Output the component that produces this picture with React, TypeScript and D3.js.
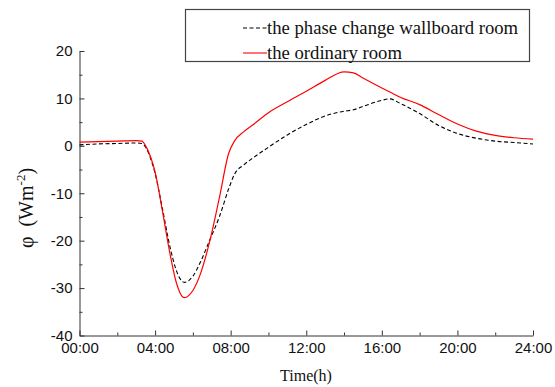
import { useRef, useEffect } from 'react';
import * as d3 from 'd3';

// hours of the day
const hours = [0, 1, 2, 3, 3.3, 3.5, 3.75, 4, 4.4, 4.8, 5.1, 5.55, 6, 6.4, 6.9, 7.4, 7.9, 8.2, 8.7, 9.2, 10, 11, 12, 13, 14, 14.5, 15, 16, 16.4, 17, 18, 19, 20, 21, 22, 23, 24];

// the phase change wallboard room
const phaseRoom = [0.2, 0.4, 0.5, 0.6, 0.5, -0.3, -2.5, -5.8, -13.5, -21.5, -26, -28.8, -27.5, -24.5, -19.8, -15, -9, -6.0, -4.0, -2.5, -0.3, 2.3, 4.5, 6.3, 7.3, 7.6, 8.3, 9.6, 9.9, 8.9, 6.8, 4.3, 2.6, 1.6, 1.0, 0.7, 0.4];

// the ordinary room
const ordinaryRoom = [0.8, 0.9, 1.0, 1.1, 1.0, 0.0, -2.2, -5.5, -14, -23, -28.5, -32, -30.5, -27, -20, -11, -1.5, 1.0, 3.0, 4.5, 7, 9.3, 11.5, 13.8, 15.6, 15.4, 14.3, 12.2, 11.4, 10.2, 8.7, 6.6, 4.6, 3.1, 2.2, 1.7, 1.4];

const xTicks = [0, 4, 8, 12, 16, 20, 24];
const xTickLabels = ['00:00', '04:00', '08:00', '12:00', '16:00', '20:00', '24:00'];
const yTicks = [-40, -30, -20, -10, 0, 10, 20];

const seriesNames = ['the phase change wallboard room', 'the ordinary room'];

export default function App() {
  const svgRef = useRef<SVGSVGElement>(null);

  useEffect(() => {
    if (!svgRef.current) return;
    const width = 555;
    const height = 387;
    const margin = { top: 51, right: 22, bottom: 51.5, left: 79.5 };
    const innerWidth = width - margin.left - margin.right;
    const innerHeight = height - margin.top - margin.bottom;

    const svg = d3.select(svgRef.current);
    svg.selectAll('*').remove();
    svg.attr('width', width).attr('height', height);

    const g = svg.append('g').attr('transform', `translate(${margin.left},${margin.top})`);

    const xScale = d3.scaleLinear().domain([0, 24]).range([0, innerWidth]);
    const yScale = d3.scaleLinear().domain([-40, 20]).range([innerHeight, 0]);

    const axisColor = '#333';
    const tickFont = '"Liberation Sans", Arial, sans-serif';
    const serif = '"Liberation Serif", "Times New Roman", serif';

    // X axis (ticks inward)
    g.append('g')
      .attr('transform', `translate(0,${innerHeight})`)
      .call(d3.axisBottom(xScale).tickValues(d3.range(0, 25, 2)).tickSize(0).tickFormat(() => ''))
      .call((a) => a.select('.domain').attr('stroke', axisColor))
      .call((a) =>
        a.selectAll<SVGLineElement, number>('.tick line')
          .attr('stroke', axisColor)
          .attr('y2', (d) => (d % 4 === 0 ? -5 : -3))
      );

    g.append('g')
      .attr('transform', `translate(0,${innerHeight})`)
      .call(
        d3.axisBottom(xScale)
          .tickValues(xTicks)
          .tickSize(0)
          .tickPadding(0)
          .tickFormat((d, i) => xTickLabels[i])
      )
      .call((a) => a.select('.domain').remove())
      .call((a) =>
        a.selectAll('.tick text')
          .attr('fill', '#111')
          .attr('font-size', '15px')
          .attr('font-family', tickFont)
          .attr('dy', null)
          .attr('y', 17.5)
      );

    // Y axis (ticks inward)
    g.append('g')
      .call(d3.axisLeft(yScale).tickValues(d3.range(-40, 21, 5)).tickSize(0).tickFormat(() => ''))
      .call((a) => a.select('.domain').attr('stroke', axisColor))
      .call((a) =>
        a.selectAll<SVGLineElement, number>('.tick line')
          .attr('stroke', axisColor)
          .attr('x2', (d) => (d % 10 === 0 ? 5 : 3))
      );

    g.append('g')
      .call(d3.axisLeft(yScale).tickValues(yTicks).tickSize(0).tickPadding(7).tickFormat(d3.format('d')))
      .call((a) => a.select('.domain').remove())
      .call((a) =>
        a.selectAll('.tick text')
          .attr('fill', '#111')
          .attr('font-size', '15px')
          .attr('font-family', tickFont)
          .text((d) => String(d).replace('−', '-'))
      );

    // Lines
    const line = d3
      .line<number>()
      .x((_, i) => xScale(hours[i]))
      .y((d) => yScale(d))
      .curve(d3.curveMonotoneX);

    g.append('path')
      .datum(phaseRoom)
      .attr('fill', 'none')
      .attr('stroke', '#000')
      .attr('stroke-width', 1.1)
      .attr('stroke-dasharray', '4,2.5')
      .attr('d', line);

    g.append('path')
      .datum(ordinaryRoom)
      .attr('fill', 'none')
      .attr('stroke', '#ff0000')
      .attr('stroke-width', 1.2)
      .attr('d', line);

    // Legend
    const legend = svg.append('g');
    legend.append('rect')
      .attr('x', 185.5)
      .attr('y', 9.5)
      .attr('width', 344)
      .attr('height', 52)
      .attr('fill', '#fff')
      .attr('stroke', '#444')
      .attr('stroke-width', 1.2);

    const styles = [
      { stroke: '#000', dash: '4,2.5' },
      { stroke: '#ff0000', dash: null },
    ];
    seriesNames.forEach((name, i) => {
      const cy = 28 + i * 25;
      legend.append('line')
        .attr('x1', 243)
        .attr('x2', 267)
        .attr('y1', cy)
        .attr('y2', cy)
        .attr('stroke', styles[i].stroke)
        .attr('stroke-width', 1.1)
        .attr('stroke-dasharray', styles[i].dash);
      legend.append('text')
        .attr('x', 267)
        .attr('y', cy)
        .attr('dy', '0.32em')
        .attr('font-size', '18.7px')
        .attr('font-family', serif)
        .attr('fill', '#111')
        .text(name);
    });

    // Axis titles
    svg.append('text')
      .attr('x', 306)
      .attr('y', 381)
      .attr('text-anchor', 'middle')
      .attr('font-size', '16px')
      .attr('font-family', serif)
      .attr('fill', '#111')
      .text('Time(h)');

    const yLabel = svg.append('text')
      .attr('transform', 'translate(33,208) rotate(-90)')
      .attr('text-anchor', 'middle')
      .attr('font-size', '20px')
      .attr('font-family', serif)
      .attr('fill', '#111');
    yLabel.append('tspan').text('φ\u00a0\u00a0(Wm');
    yLabel.append('tspan').attr('dy', -8).attr('font-size', '13px').text('-2');
    yLabel.append('tspan').attr('dy', 8).text(')');
  }, []);

  return (
    <div style={{ position: 'absolute', left: 0, top: 0 }}>
      <svg ref={svgRef} style={{ display: 'block' }} />
    </div>
  );
}
